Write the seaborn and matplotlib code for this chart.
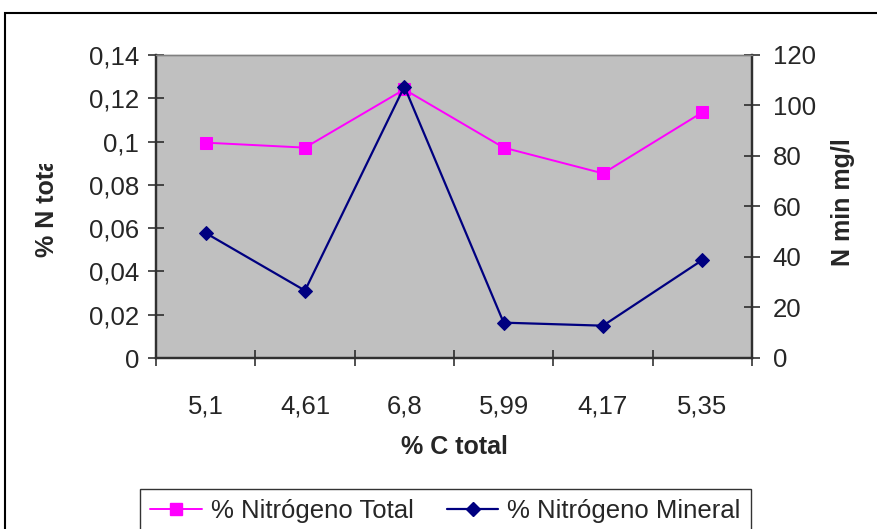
import numpy as np
import pandas as pd
import matplotlib
matplotlib.use("Agg")
import matplotlib.pyplot as plt
from matplotlib.ticker import MultipleLocator, FuncFormatter, FixedLocator, NullFormatter
from matplotlib.lines import Line2D
from matplotlib.patches import Rectangle
import seaborn as sns

# Data
carbon_labels = ["5,1", "4,61", "6,8", "5,99", "4,17", "5,35"]
n_total = [0.0995, 0.0972, 0.1241, 0.0972, 0.0853, 0.1135]     # % N total (left axis)
n_mineral = [49.5, 26.7, 107.5, 14.0, 12.8, 38.8]               # N min mg/l (right axis)
series_names = ["% Nitrógeno Total", "% Nitrógeno Mineral"]
x_title = "% C total"
y_left_title = "% N total"
y_right_title = "N min mg/l"

df = pd.DataFrame({"pos": np.arange(len(carbon_labels)),
                   "n_total": n_total, "n_mineral": n_mineral})

sns.set_theme(style="white")
plt.rcParams["font.family"] = ["Liberation Sans", "DejaVu Sans"]

W, H = 877, 529
TICK_FS = 18.5
TITLE_FS = 18
fig = plt.figure(figsize=(W / 100, H / 100), dpi=100)
fig.patch.set_facecolor("white")

ax = fig.add_axes([156 / W, 1 - 358 / H, (752 - 156) / W, (358 - 55) / H])
ax.set_facecolor("#C0C0C0")
ax2 = ax.twinx()

pink = "#FF00FF"
navy = "#000080"
sq_size = 8.5
dia_size = 7.0

sns.lineplot(data=df, x="pos", y="n_total", ax=ax, color=pink, linewidth=1.4,
             marker="s", markersize=sq_size, markeredgecolor=pink, markerfacecolor=pink,
             legend=False, zorder=3)
sns.lineplot(data=df, x="pos", y="n_mineral", ax=ax2, color=navy, linewidth=1.6,
             marker="D", markersize=dia_size, markeredgecolor=navy, markerfacecolor=navy,
             legend=False, zorder=4)

ax.set_xlim(-0.5, len(carbon_labels) - 0.5)
ax.set_ylim(0, 0.14)
ax2.set_ylim(0, 120)

# category boundaries carry the tick marks, labels sit at the centres
ax.xaxis.set_major_locator(FixedLocator(np.arange(-0.5, len(carbon_labels), 1.0)))
ax.xaxis.set_major_formatter(NullFormatter())
ax.xaxis.set_minor_locator(FixedLocator(np.arange(len(carbon_labels))))
ax.set_xticklabels(carbon_labels, minor=True)
ax.tick_params(axis="x", which="major", direction="inout", length=11, width=1.1,
               color="#202020", bottom=True)
ax.tick_params(axis="x", which="minor", length=0, pad=26, labelsize=TICK_FS, bottom=True)

ax.yaxis.set_major_locator(MultipleLocator(0.02))
ax.yaxis.set_major_formatter(FuncFormatter(lambda v, p: f"{v:g}".replace(".", ",")))
ax.tick_params(axis="y", direction="inout", length=12, width=1.1, color="#202020",
               labelsize=TICK_FS, pad=6, left=True)

ax2.yaxis.set_major_locator(MultipleLocator(20))
ax2.tick_params(axis="y", direction="inout", length=12, width=1.1, color="#202020",
                labelsize=TICK_FS, pad=9, right=True)

ax.set_xlabel("")
ax.set_ylabel("")
ax2.set_ylabel("")
ax.grid(False)
ax2.grid(False)

for a in (ax, ax2):
    for side in ("left", "right", "bottom"):
        a.spines[side].set_color("#303030")
        a.spines[side].set_linewidth(1.6)
    a.spines["top"].set_color("#808080")
    a.spines["top"].set_linewidth(1.0)

# axis titles
fig.text(454 / W, 1 - 447 / H, x_title, ha="center", va="center",
         fontsize=TITLE_FS, fontweight="bold")
fig.text(843 / W, 1 - 202 / H, y_right_title, ha="center", va="center",
         rotation=90, fontsize=TITLE_FS, fontweight="bold")

# left title: the text box is narrower than the text, so its end is cut off
left_title = fig.text(47 / W, 1 - 257 / H, y_left_title, ha="center", va="bottom",
                      rotation=90, fontsize=TITLE_FS, fontweight="bold")
fig.canvas.draw()
renderer = fig.canvas.get_renderer()
probe = fig.text(0, 0, y_left_title[:7], rotation=90, fontsize=TITLE_FS, fontweight="bold")
visible_len = probe.get_window_extent(renderer).height
probe.remove()
clip_top = (H - 257) + visible_len + 7
left_title.set_clip_path(Rectangle((0, 0), 120, clip_top, transform=None))

# legend
handles = [
    Line2D([], [], color=pink, linewidth=1.4, marker="s", markersize=sq_size,
           markeredgecolor=pink, markerfacecolor=pink),
    Line2D([], [], color=navy, linewidth=1.6, marker="D", markersize=dia_size,
           markeredgecolor=navy, markerfacecolor=navy),
]
leg = fig.legend(handles, series_names, loc="upper left",
                 bbox_to_anchor=(140 / W, 1 - 489 / H), ncol=2, frameon=True,
                 fancybox=False, edgecolor="black", fontsize=TICK_FS, borderaxespad=0,
                 handlelength=2.0, handletextpad=0.35, columnspacing=1.3,
                 borderpad=0.4)
leg.get_frame().set_linewidth(1.0)

# chart area border
fig.patches.append(Rectangle((5, -20), W + 20, (H - 13) + 20, transform=None,
                             fill=False, edgecolor="black", linewidth=1.5))

fig.savefig("out.png", dpi=100)
